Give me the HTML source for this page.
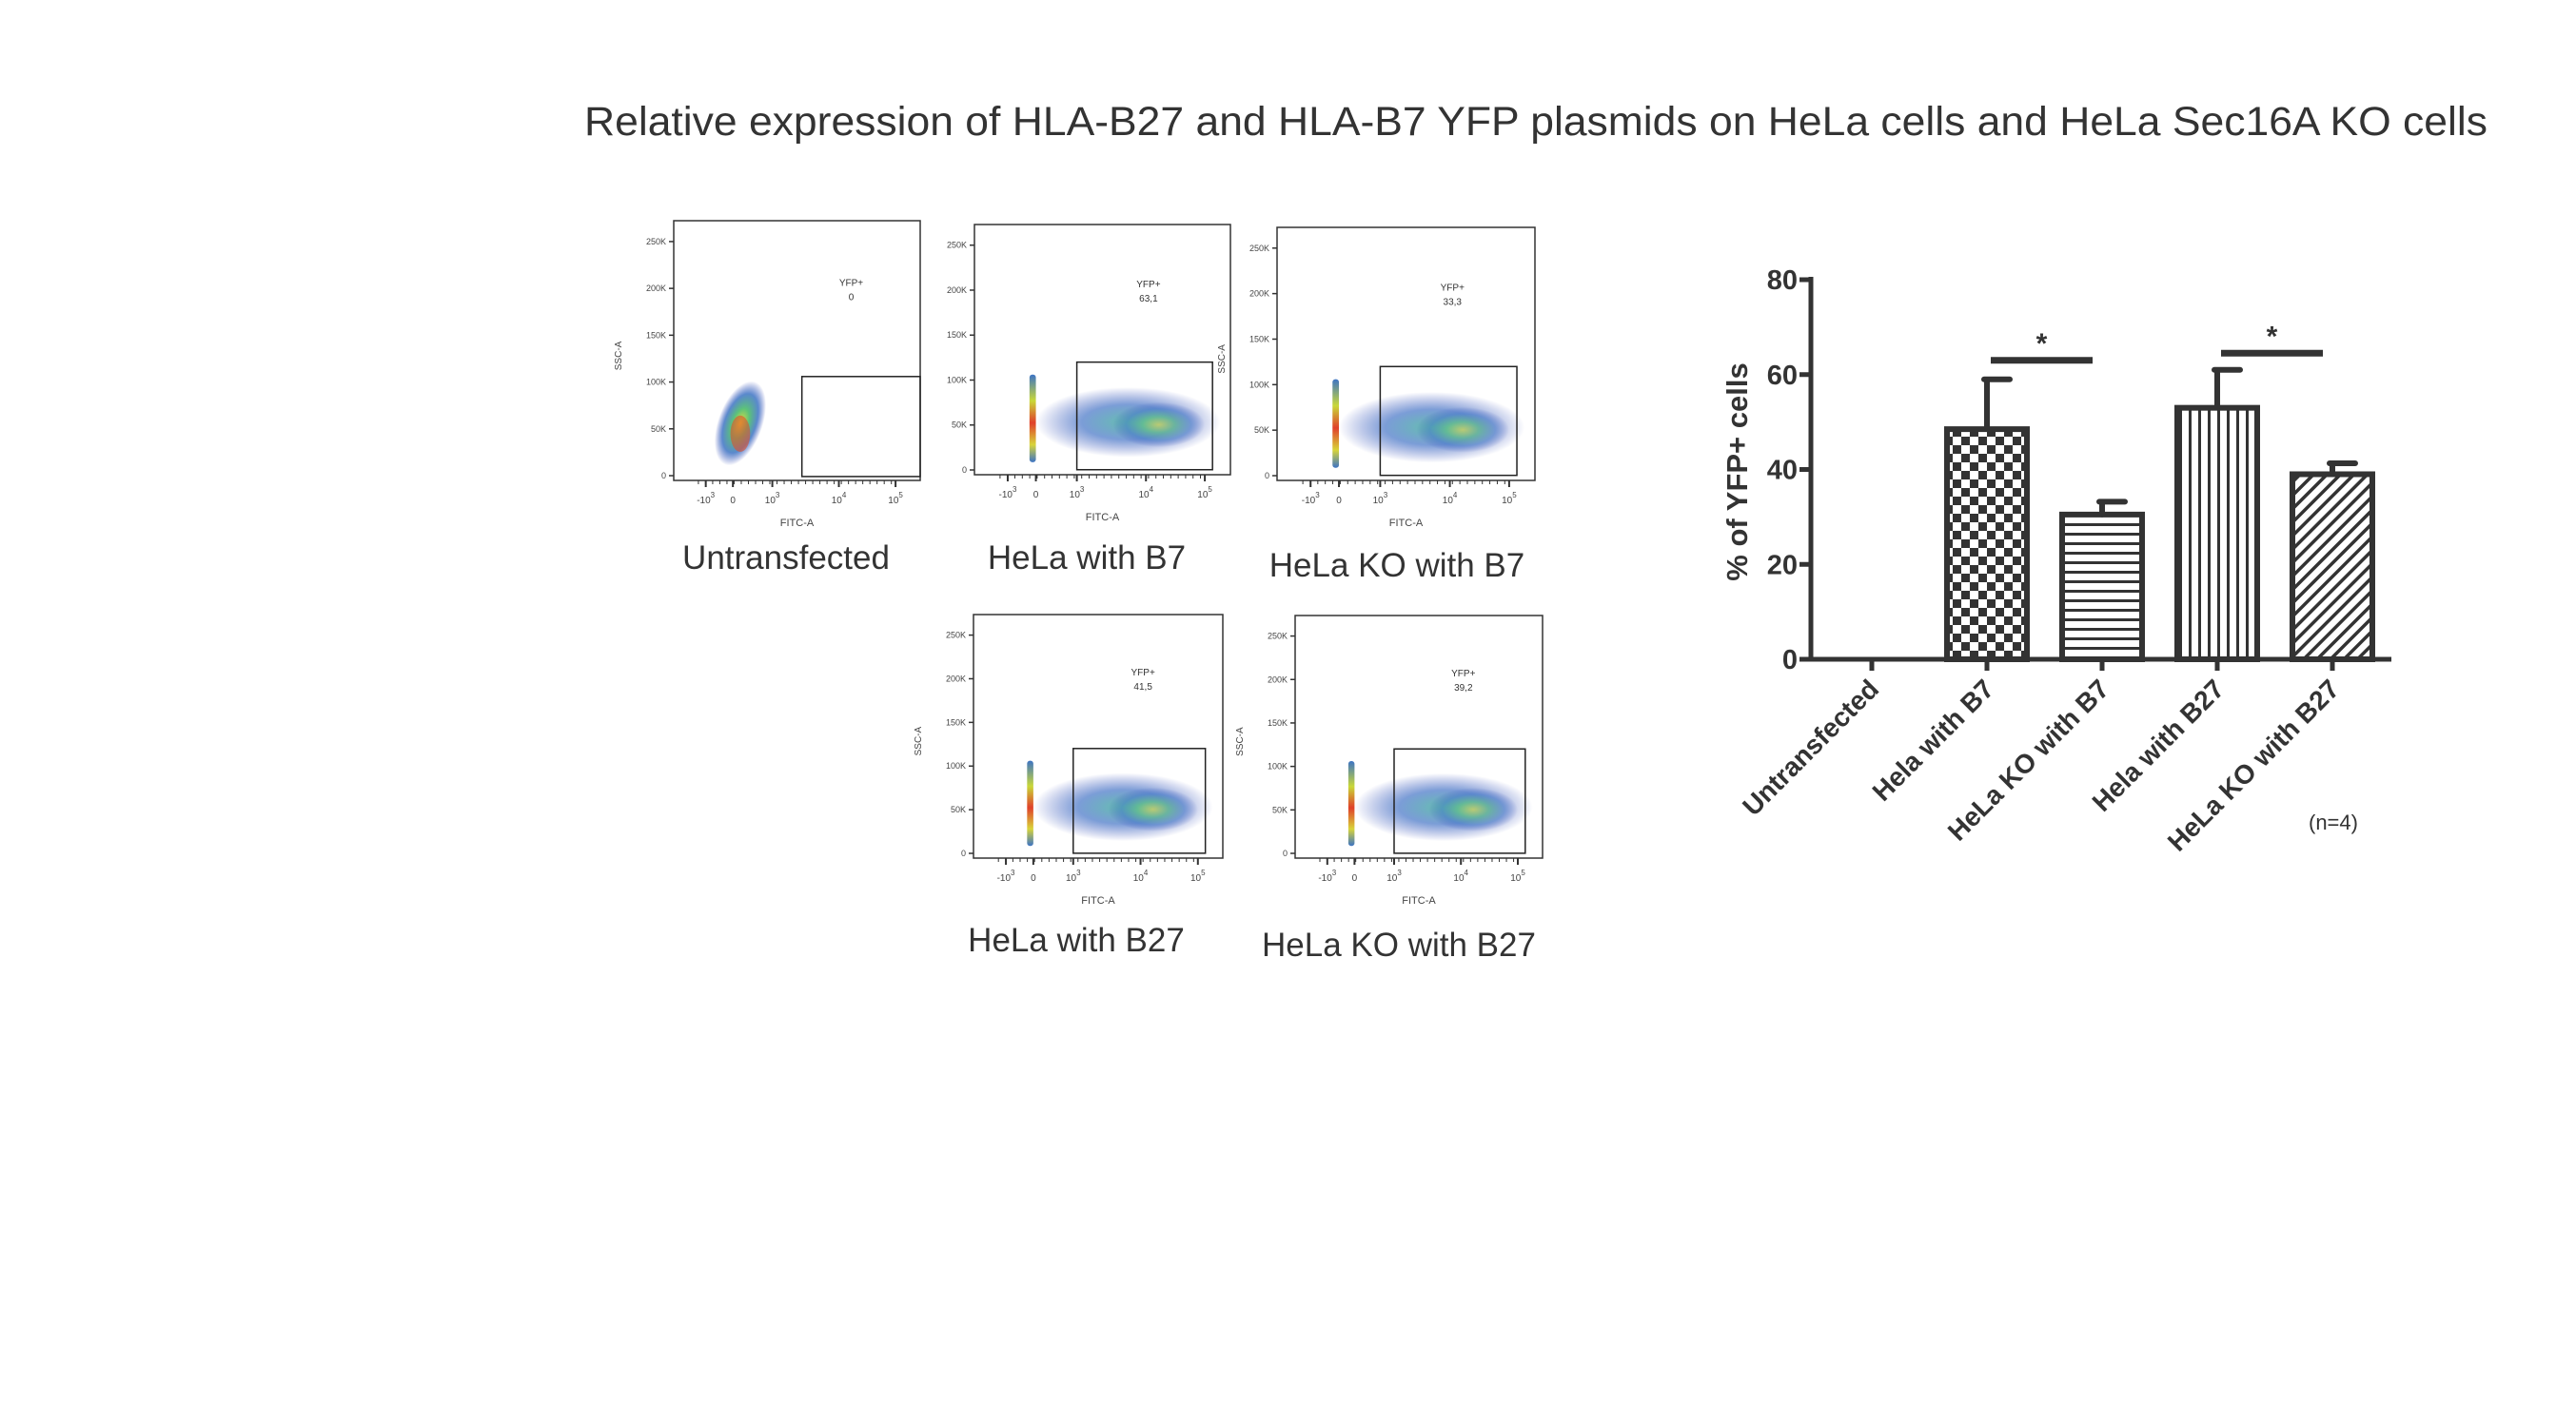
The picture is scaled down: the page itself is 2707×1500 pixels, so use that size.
<!DOCTYPE html>
<html><head><meta charset="utf-8">
<style>
html,body{margin:0;padding:0;background:#fff;}
svg{display:block;}
</style></head>
<body>
<svg id="root" width="2707" height="1500" viewBox="0 0 2707 1500" xmlns="http://www.w3.org/2000/svg">
<defs>
<pattern id="pat-check" width="18" height="18" patternUnits="userSpaceOnUse">
<rect width="18" height="18" fill="#fff"/><rect width="9" height="9" fill="#333"/><rect x="9" y="9" width="9" height="9" fill="#333"/>
</pattern>
<pattern id="pat-hline" width="10" height="10" patternUnits="userSpaceOnUse">
<rect width="10" height="10" fill="#fff"/><rect y="0" width="10" height="3" fill="#333"/>
</pattern>
<pattern id="pat-vline" width="10" height="10" patternUnits="userSpaceOnUse">
<rect width="10" height="10" fill="#fff"/><rect x="0" width="3" height="10" fill="#333"/>
</pattern>
<pattern id="pat-diag" width="10" height="10" patternUnits="userSpaceOnUse" patternTransform="rotate(45)">
<rect width="10" height="10" fill="#fff"/><rect x="0" width="3.5" height="10" fill="#333"/>
</pattern>
<radialGradient id="dens" cx="50%" cy="50%" r="50%">
<stop offset="0" stop-color="#e8e23a"/><stop offset="0.35" stop-color="#5cc27a"/><stop offset="0.7" stop-color="#3d74c4" stop-opacity="0.85"/><stop offset="1" stop-color="#3b4fb8" stop-opacity="0"/>
</radialGradient>
<radialGradient id="dens-low" cx="50%" cy="50%" r="50%">
<stop offset="0" stop-color="#4bb8a0"/><stop offset="0.5" stop-color="#3d6fc4" stop-opacity="0.8"/><stop offset="1" stop-color="#3b4fb8" stop-opacity="0"/>
</radialGradient>
<linearGradient id="streak" x1="0" y1="0" x2="0" y2="1">
<stop offset="0" stop-color="#3d74c4"/><stop offset="0.3" stop-color="#c9d838"/><stop offset="0.55" stop-color="#e0402a"/><stop offset="0.8" stop-color="#d8d43a"/><stop offset="1" stop-color="#3d74c4"/>
</linearGradient>
</defs>
<text x="614" y="142" textLength="2000" lengthAdjust="spacingAndGlyphs" font-family="Liberation Sans, sans-serif" font-size="43" fill="#333">Relative expression of HLA-B27 and HLA-B7 YFP plasmids on HeLa cells and HeLa Sec16A KO cells</text>
<g id="flows"></g>
<g id="chart"></g>
</svg>
<script>
// ---- bar chart data ----
const categories = ["Untransfected","Hela with B7","HeLa KO with B7","Hela with B27","HeLa KO with B27"];
const means = [0, 48.5, 30.5, 53, 39];
const errs = [0, 10.5, 2.7, 8, 2.3];
const patterns = ["none","pat-check","pat-hline","pat-vline","pat-diag"];
const yTicks = [0, 20, 40, 60, 80];
const sigFrom = [1, 3];
const sigTo = [2, 4];
const sigLevel = [63, 64.5];
// ---- flow panel data ----
const flowTitles = ["Untransfected","HeLa with B7","HeLa KO with B7","HeLa with B27","HeLa KO with B27"];
const flowPercent = ["0","63,1","33,3","41,5","39,2"];

const NS="http://www.w3.org/2000/svg";
function mk(tag, attrs, parent){const e=document.createElementNS(NS,tag);for(const k in attrs)e.setAttribute(k,attrs[k]);parent.appendChild(e);return e;}

// ---- chart ----
const chart=document.getElementById('chart');
const X0=1903, X1=2513, Y0=693, Y80=294;
const yScale=v=>Y0-(v/80)*(Y0-Y80);
const step=121, firstX=1967;
const xScale=i=>firstX+i*step;
const BW=84, C="#333";
const axisY=mk('line',{x1:X0,y1:Y80-3,x2:X0,y2:Y0+2,stroke:C,'stroke-width':5},chart);


const axisX=mk('line',{x1:X0-12,y1:Y0,x2:X1,y2:Y0,stroke:C,'stroke-width':5},chart);


yTicks.forEach(v=>{
  const y=yScale(v);
  const t=mk('line',{x1:X0-12,y1:y,x2:X0,y2:y,stroke:C,'stroke-width':5},chart);
  
  
  const l=mk('text',{x:X0-14,y:y+10,'text-anchor':'end','font-family':'Liberation Sans, sans-serif','font-weight':'bold','font-size':29,fill:C},chart);
  l.textContent=v;
  
  
});
const yl=mk('text',{x:0,y:0,transform:'translate(1836,496) rotate(-90)','text-anchor':'middle','font-family':'Liberation Sans, sans-serif','font-weight':'bold','font-size':31,fill:C},chart);
yl.textContent="% of YFP+ cells";


categories.forEach((c,i)=>{
  const cx=xScale(i);
  const tk=mk('line',{x1:cx,y1:Y0,x2:cx,y2:Y0+12,stroke:C,'stroke-width':5},chart);
  
  
  if(means[i]>0){
    const top=yScale(means[i]);
    const b=mk('rect',{x:cx-BW/2,y:top,width:BW,height:Y0-top,fill:'url(#'+patterns[i]+')',stroke:C,'stroke-width':6},chart);
    
    
    const et=yScale(means[i]+errs[i]);
    const e=mk('path',{d:`M${cx},${top} V${et} M${cx-3},${et} H${cx+24}`,stroke:C,'stroke-width':6,fill:'none','stroke-linecap':'round'},chart);
    
    
  }
  const lab=mk('text',{x:0,y:0,transform:`translate(${cx+9},${Y0+33}) rotate(-45)`,'text-anchor':'end','font-family':'Liberation Sans, sans-serif','font-weight':'bold','font-size':28,fill:C},chart);
  lab.textContent=c;
  
  
});
sigFrom.forEach((f,k)=>{
  const y=yScale(sigLevel[k]);
  const a=xScale(f)+4, b=xScale(sigTo[k])-10;
  const s=mk('line',{x1:a,y1:y,x2:b,y2:y,stroke:C,'stroke-width':7},chart);
  
  
  const st=mk('text',{x:(a+b)/2,y:y-8,'text-anchor':'middle','font-family':'Liberation Sans, sans-serif','font-weight':'bold','font-size':30,fill:C},chart);
  st.textContent="*";
  
  
});
const nl=mk('text',{x:2452,y:872,'text-anchor':'middle','font-family':'Liberation Sans, sans-serif','font-size':22,fill:C},chart);
nl.textContent="(n=4)";



// ---- flow panels ----
const flows=document.getElementById('flows');
const frames=[[708,232,967,505],[1024,236,1293,499],[1342,239,1613,505],[1023,646,1285,902],[1361,647,1621,902]];
const labelPos=[[826,598],[1142,598],[1468,606],[1131,1000],[1470,1005]];
frames.forEach((f,i)=>{
  const [x0,y0,x1,y1]=f, w=x1-x0, h=y1-y0;
  const g=mk('g',{},flows);
  
  
  const fr=mk('rect',{x:x0,y:y0,width:w,height:h,fill:'#fff',stroke:'#333','stroke-width':1.5},g);
  
  
  ["0","50K","100K","150K","200K","250K"].forEach((t,k)=>{
    const y=y1-5-k*(h-22)/5.1;
    mk('line',{x1:x0-5,y1:y,x2:x0,y2:y,stroke:'#333','stroke-width':1.5},g);
    const tx=mk('text',{x:x0-8,y:y+3,'text-anchor':'end','font-family':'Liberation Sans, sans-serif','font-size':9,fill:'#444'},g);
    tx.textContent=t;
    
    
  });
  const xt=[["-10","3",0.13],["0","",0.24],["10","3",0.4],["10","4",0.67],["10","5",0.9]];
  xt.forEach(([b,s,r])=>{
    const x=x0+r*w;
    mk('line',{x1:x,y1:y1,x2:x,y2:y1+7,stroke:'#333','stroke-width':2},g);
    const tx=mk('text',{x:x,y:y1+24,'text-anchor':'middle','font-family':'Liberation Sans, sans-serif','font-size':10,fill:'#444'},g);
    tx.textContent=b;
    if(s){const sp=mk('tspan',{dy:-6,'font-size':8},tx);sp.textContent=s;}
    
    
  });
  for(let k=0;k<28;k++){const x=x0+w*(0.1+k*0.029);mk('line',{x1:x,y1:y1,x2:x,y2:y1+4,stroke:'#333','stroke-width':1},g);}
  const fa=mk('text',{x:x0+w*0.5,y:y1+48,'text-anchor':'middle','font-family':'Liberation Sans, sans-serif','font-size':11,fill:'#444'},g);
  fa.textContent="FITC-A";
  
  
  if(i!==1){
    const sa=mk('text',{x:0,y:0,transform:`translate(${x0-55},${y0+h*0.52}) rotate(-90)`,'text-anchor':'middle','font-family':'Liberation Sans, sans-serif','font-size':10,fill:'#444'},g);
    sa.textContent="SSC-A";
    
    
  }
  if(i===0){
    mk('ellipse',{cx:x0+w*0.27,cy:y0+h*0.78,rx:w*0.09,ry:h*0.17,fill:'url(#dens)',transform:`rotate(20 ${x0+w*0.27} ${y0+h*0.78})`},g);
    mk('ellipse',{cx:x0+w*0.27,cy:y0+h*0.82,rx:w*0.04,ry:h*0.07,fill:'#e0502a','fill-opacity':0.6},g);
  } else {
    mk('ellipse',{cx:x0+w*0.6,cy:y0+h*0.79,rx:w*0.36,ry:h*0.14,fill:'url(#dens-low)','fill-opacity':0.85},g);
    mk('ellipse',{cx:x0+w*0.72,cy:y0+h*0.8,rx:w*0.18,ry:h*0.09,fill:'url(#dens)','fill-opacity':0.6},g);
    mk('rect',{x:x0+w*0.215,y:y0+h*0.6,width:w*0.025,height:h*0.35,rx:3,fill:'url(#streak)'},g);
  }
  const gate = i===0 ? [0.52,0.6,1.0,0.985] : [0.4,0.55,0.93,0.98];
  const gr=mk('rect',{x:x0+w*gate[0],y:y0+h*gate[1],width:w*(gate[2]-gate[0]),height:h*(gate[3]-gate[1]),fill:'none',stroke:'#222','stroke-width':1.5},g);
  
  
  const gx=x0+w*(i===0?0.72:0.68);
  const t1=mk('text',{x:gx,y:y0+h*0.25,'text-anchor':'middle','font-family':'Liberation Sans, sans-serif','font-size':10,fill:'#333'},g);
  t1.textContent="YFP+";
  
  
  const t2=mk('text',{x:gx,y:y0+h*0.25+15,'text-anchor':'middle','font-family':'Liberation Sans, sans-serif','font-size':10,fill:'#333'},g);
  t2.textContent=flowPercent[i];
  
  
  const lt=mk('text',{x:labelPos[i][0],y:labelPos[i][1],'text-anchor':'middle','font-family':'Liberation Sans, sans-serif','font-size':35,fill:'#333'},flows);
  lt.textContent=flowTitles[i];
  
  
});
</script>
</body></html>
